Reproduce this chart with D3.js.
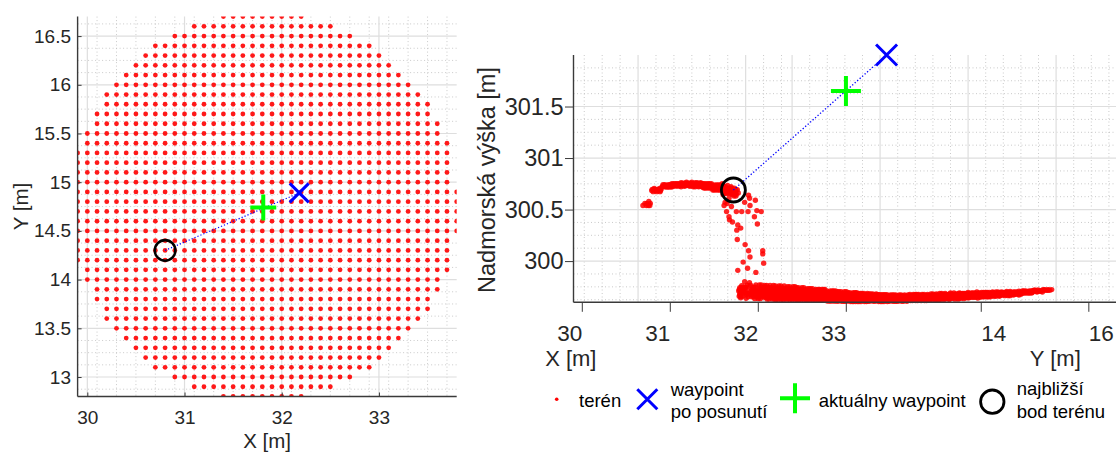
<!DOCTYPE html>
<html><head><meta charset="utf-8">
<script src="https://cdn.jsdelivr.net/npm/d3@7"></script>
<style>
html,body{margin:0;padding:0;background:#fff;}
svg{display:block;font-family:"Liberation Sans",Arial,Helvetica,sans-serif;}
</style></head><body>
<svg id="chart" width="1116" height="452"></svg>
<script>
// ================= DATA =================
// terrain grid (0.1 m spacing): each row y with first / last x
const rowY    = [12.8,12.9,13.0,13.1,13.2,13.3,13.4,13.5,13.6,13.7,13.8,13.9,14.0,14.1,14.2,14.3,14.4,14.5,14.6,14.7,
                 14.8,14.9,15.0,15.1,15.2,15.3,15.4,15.5,15.6,15.7,15.8,15.9,16.0,16.1,16.2,16.3,16.4,16.5,16.6,16.7];
const rowXMin = [31.4,31.1,30.9,30.7,30.6,30.5,30.4,30.3,30.2,30.2,30.1,30.1,30.0,30.0,29.9,29.9,29.9,29.9,29.9,29.9,
                 29.9,29.9,29.9,29.9,29.9,29.9,30.0,30.0,30.1,30.1,30.2,30.2,30.3,30.4,30.5,30.6,30.7,30.9,31.1,31.4];
const rowXMax = [32.2,32.5,32.7,32.9,33.0,33.1,33.2,33.3,33.4,33.5,33.5,33.6,33.6,33.7,33.7,33.7,33.7,33.8,33.8,33.8,
                 33.8,33.8,33.7,33.7,33.7,33.7,33.7,33.6,33.6,33.5,33.5,33.4,33.3,33.2,33.1,33.0,32.9,32.7,32.5,32.2];

// terrain height read from the side view, by horizontal distance along the view (0.1 m bins)
const upperQ      = [0.7,0.8,0.9,1.0,1.1,1.2,1.3,1.4,1.5,1.6];
const upperZ      = [300.55,300.69,300.73,300.74,300.745,300.74,300.73,300.715,300.69,300.67];
const upperSpread = [0.07,0.04,0.03,0.028,0.028,0.028,0.03,0.035,0.045,0.055];
const lowerQ      = [1.6,1.7,1.8,1.9,2.0,2.1,2.2,2.3,2.4,2.5,2.6,2.7,2.8,2.9,3.0,3.1,
                     3.2,3.3,3.4,3.5,3.6,3.7,3.8,3.9,4.0,4.1,4.2,4.3,4.4,4.5,4.6,4.7];
const lowerZ      = [299.70,299.70,299.70,299.695,299.69,299.685,299.68,299.675,299.67,299.66,299.655,299.65,299.645,299.645,299.64,299.64,
                     299.64,299.645,299.645,299.65,299.655,299.66,299.665,299.67,299.675,299.68,299.685,299.69,299.70,299.71,299.72,299.725];
const lowerSpread = [0.06,0.065,0.068,0.068,0.068,0.066,0.062,0.058,0.054,0.05,0.047,0.044,0.04,0.037,0.034,0.032,
                     0.031,0.03,0.03,0.03,0.03,0.031,0.031,0.031,0.031,0.03,0.029,0.027,0.025,0.024,0.023,0.022];
const cliffQ = 1.6;                       // edge of the step
const depthShape = [-0.95,-0.7,-0.4,-0.15,0.15,0.4,0.7,1.0];
// scattered terrain points on the step (x, y, z)
const cliffX = [31.0,30.3,30.9,30.6,30.1,30.2,31.0,30.3,31.4,30.9,30.7,31.7,31.3,30.3,31.6,31.4,30.9,30.3,31.3,30.5,
                31.9,31.4,30.8,31.6,31.6,30.5,31.2,30.7,31.3,31.1,30.4,31.5,30.4,32.0,30.6,31.3,30.4,30.8];
const cliffY = [13.8,15.0,14.1,14.5,15.5,15.2,13.9,15.1,13.4,14.2,14.6,12.9,13.7,15.4,13.3,13.5,14.4,15.2,13.9,15.0,
                12.8,13.6,14.6,13.4,13.2,15.1,13.8,14.9,14.0,14.2,15.4,13.7,15.5,12.9,14.9,13.4,14.8,14.3];
const cliffZ = [300.54,300.56,300.53,300.48,300.48,300.43,300.40,300.38,300.35,300.30,300.32,300.21,300.16,300.10,300.04,
                299.99,299.93,299.91,299.89,299.80,299.79,300.64,300.61,300.59,300.57,300.54,300.48,300.49,300.48,300.43,
                300.36,300.10,300.07,299.98,300.48,300.61,300.57,300.69];

// waypoints
const nearestPt = {x:30.8,  y:14.3,  z:300.69};
const currentWp = {x:31.81, y:14.74, z:301.65};
const shiftedWp = {x:32.18, y:14.89, z:302.0};

// axes
const xDomain = [29.9, 33.8], yDomain = [12.8, 16.7], zDomain = [299.6, 302.0];
const xTicksL = [30,31,32,33];
const yTicksL = [13,13.5,14,14.5,15,15.5,16,16.5];
const xTicks3 = [30,31,32,33];
const yTicks3 = [14,16];
const zTicks3 = [300,300.5,301,301.5];
const xLabel = "X [m]", yLabel = "Y [m]", zLabel = "Nadmorská výška [m]";
const legendItems = [["terén"],["waypoint","po posunutí"],["aktuálny waypoint"],["najbližší","bod terénu"]];

// ================= BUILD =================
const svg = d3.select('#chart');
const INK = '#262626', SPINE = '#3a3a3a', GRID = '#dedede', MINOR = '#bdbdbd';
const RED = '#ff0000', BLUE = '#0000ff', GREEN = '#00ff00';

const terrain = [];
rowY.forEach((y, i) => {
  const n = Math.round((rowXMax[i] - rowXMin[i]) * 10);
  for (let k = 0; k <= n; k++) terrain.push({x: +(rowXMin[i] + k * 0.1).toFixed(1), y});
});
const cliffMap = new Map(cliffX.map((x, i) => [x.toFixed(1) + ',' + cliffY[i].toFixed(1), cliffZ[i]]));
const az = 31.45 * Math.PI / 180, ca = Math.cos(az), sa = Math.sin(az);
const cx = d3.mean(terrain, d => d.x), cy = d3.mean(terrain, d => d.y);
terrain.forEach(d => {
  const key = d.x.toFixed(1) + ',' + d.y.toFixed(1);
  const q = ca * (d.x - xDomain[0]) + sa * (d.y - yDomain[0]);
  const v = -sa * (d.x - cx) + ca * (d.y - cy);
  const vi = Math.max(0, Math.min(7, Math.floor((v + 2) / 0.5)));
  if (cliffMap.has(key)) { d.z = cliffMap.get(key); return; }
  if (q < cliffQ) {
    const i = Math.max(0, Math.min(upperQ.length - 1, Math.round(q * 10) - Math.round(upperQ[0] * 10)));
    d.z = upperZ[i] + upperSpread[i] * depthShape[vi];
  } else {
    const i = Math.max(0, Math.min(lowerQ.length - 1, Math.round(q * 10) - Math.round(lowerQ[0] * 10)));
    d.z = lowerZ[i] + lowerSpread[i] * depthShape[vi];
  }
});

function xMark(g, cx_, cy_, h, w, col) {
  g.append('path').attr('d', `M${cx_-h},${cy_-h}L${cx_+h},${cy_+h}M${cx_-h},${cy_+h}L${cx_+h},${cy_-h}`)
    .attr('stroke', col).attr('stroke-width', w).attr('fill', 'none');
}
function plusMark(g, cx_, cy_, h, w, col) {
  g.append('path').attr('d', `M${cx_-h},${cy_}L${cx_+h},${cy_}M${cx_},${cy_-h}L${cx_},${cy_+h}`)
    .attr('stroke', col).attr('stroke-width', w).attr('fill', 'none');
}
function ringMark(g, cx_, cy_, r, w) {
  g.append('circle').attr('cx', cx_).attr('cy', cy_).attr('r', r)
    .attr('fill', 'none').attr('stroke', '#000').attr('stroke-width', w);
}

// ---------- LEFT PANEL (top view) ----------
const L = {left: 77.6, right: 456.7, top: 16.6, bottom: 396.5};
const xL = d3.scaleLinear().domain(xDomain).range([L.left, L.right]);
const yL = d3.scaleLinear().domain(yDomain).range([L.bottom, L.top]);
const gL = svg.append('g');
gL.append('clipPath').attr('id', 'clipL').append('rect')
  .attr('x', L.left).attr('y', L.top).attr('width', L.right - L.left).attr('height', L.bottom - L.top);

const xMinorL = d3.range(30.1, 33.75, 0.2);
const yMinorL = d3.range(12.875, 16.7, 0.125).filter(v => Math.abs(v * 2 - Math.round(v * 2)) > 1e-6);
gL.append('g').selectAll('line').data(xMinorL).join('line')
  .attr('x1', d => xL(d)).attr('x2', d => xL(d)).attr('y1', L.top).attr('y2', L.bottom)
  .attr('stroke', MINOR).attr('stroke-width', 0.8).attr('stroke-dasharray', '1,2.5');
gL.append('g').selectAll('line').data(yMinorL).join('line')
  .attr('y1', d => yL(d)).attr('y2', d => yL(d)).attr('x1', L.left).attr('x2', L.right)
  .attr('stroke', MINOR).attr('stroke-width', 0.8).attr('stroke-dasharray', '1,2.5');
gL.append('g').selectAll('line').data(xTicksL).join('line')
  .attr('x1', d => xL(d)).attr('x2', d => xL(d)).attr('y1', L.top).attr('y2', L.bottom)
  .attr('stroke', GRID).attr('stroke-width', 1.2);
gL.append('g').selectAll('line').data(yTicksL).join('line')
  .attr('y1', d => yL(d)).attr('y2', d => yL(d)).attr('x1', L.left).attr('x2', L.right)
  .attr('stroke', GRID).attr('stroke-width', 1.2);

gL.append('g').attr('clip-path', 'url(#clipL)').selectAll('circle').data(terrain).join('circle')
  .attr('cx', d => xL(d.x)).attr('cy', d => yL(d.y)).attr('r', 2.4)
  .attr('fill', RED).attr('fill-opacity', 0.9);

gL.append('line').attr('x1', xL(nearestPt.x)).attr('y1', yL(nearestPt.y))
  .attr('x2', xL(shiftedWp.x)).attr('y2', yL(shiftedWp.y))
  .attr('stroke', BLUE).attr('stroke-width', 1.2).attr('stroke-dasharray', '1.2,2');
xMark(gL, xL(shiftedWp.x), yL(shiftedWp.y), 9.5, 3, BLUE);
plusMark(gL, xL(currentWp.x), yL(currentWp.y), 13, 4, GREEN);
ringMark(gL, xL(nearestPt.x), yL(nearestPt.y), 10.3, 2.6);

// axes lines + ticks
const axL = d3.axisBottom(xL).tickValues(xTicksL).tickSize(-4).tickPadding(11).tickFormat(d3.format('d'));
const gxL = gL.append('g').attr('transform', `translate(0,${L.bottom})`).call(axL);
const ayL = d3.axisLeft(yL).tickValues(yTicksL).tickSize(-4).tickPadding(7).tickFormat(d3.format('~g'));
const gyL = gL.append('g').attr('transform', `translate(${L.left},0)`).call(ayL);
[gxL, gyL].forEach(g => {
  g.select('.domain').attr('stroke', SPINE).attr('stroke-width', 1.4);
  g.selectAll('.tick line').attr('stroke', SPINE).attr('stroke-width', 1);
  g.selectAll('.tick text').attr('fill', INK).style('font-size', '19px')
    .style('font-family', '"Liberation Sans",Arial,sans-serif');
});
gxL.select('.domain').attr('d', `M${L.left},0H${L.right}`);
gyL.select('.domain').attr('d', `M0,${L.top}V${L.bottom}`);
gxL.selectAll('.tick text').attr('dy', null).attr('y', 27).attr('dominant-baseline', 'auto');
gyL.selectAll('.tick text').attr('x', -6.6);

gL.append('text').attr('x', (L.left + L.right) / 2).attr('y', 448).attr('text-anchor', 'middle')
  .attr('fill', INK).style('font-size', '20.5px').text(xLabel);
gL.append('text').attr('transform', `translate(20,${(L.top + L.bottom) / 2}) rotate(-90)`)
  .attr('text-anchor', 'middle').attr('dominant-baseline', 'central')
  .attr('fill', INK).style('font-size', '20.5px').text(yLabel);

// ---------- RIGHT PANEL (side view, elevation 0) ----------
const x3 = d3.scaleLinear().domain(xDomain).range([573.5, 916.7]);
const y3 = d3.scaleLinear().domain(yDomain).range([0, 209.8]);
const z3 = d3.scaleLinear().domain(zDomain).range([302.3, 55]);
const proj = (x, y) => x3(x) + y3(y);
const gR = svg.append('g');
const uLeft = proj(xDomain[0], yDomain[0]);
const uRight = proj(xDomain[1], yDomain[1]);

// back-wall grid
const yMinor3 = [13, 13 + 1/3, 13 + 2/3, 14 + 1/3, 14 + 2/3, 15, 15 + 1/3, 15 + 2/3, 16 + 1/3, 16 + 2/3];
const xMinor3 = d3.range(30.2, 33.7, 0.2).filter(v => Math.abs(v - Math.round(v)) > 1e-6);
const zMinor3 = d3.range(299.625, 302.0, 0.125).filter(v => Math.abs(v * 2 - Math.round(v * 2)) > 1e-6);
const vMinor = yMinor3.map(y => proj(xDomain[0], y)).concat(xMinor3.map(x => proj(x, yDomain[1])));
const vMajor = yTicks3.map(y => proj(xDomain[0], y)).concat(xTicks3.map(x => proj(x, yDomain[1])));
gR.append('g').selectAll('line').data(vMinor).join('line')
  .attr('x1', d => d).attr('x2', d => d).attr('y1', z3(zDomain[1])).attr('y2', z3(zDomain[0]))
  .attr('stroke', MINOR).attr('stroke-width', 0.8).attr('stroke-dasharray', '1,2.5');
gR.append('g').selectAll('line').data(zMinor3).join('line')
  .attr('y1', d => z3(d)).attr('y2', d => z3(d)).attr('x1', uLeft).attr('x2', uRight)
  .attr('stroke', MINOR).attr('stroke-width', 0.8).attr('stroke-dasharray', '1,2.5');
gR.append('g').selectAll('line').data(vMajor).join('line')
  .attr('x1', d => d).attr('x2', d => d).attr('y1', z3(zDomain[1])).attr('y2', z3(zDomain[0]))
  .attr('stroke', GRID).attr('stroke-width', 1.2);
gR.append('g').selectAll('line').data(zTicks3).join('line')
  .attr('y1', d => z3(d)).attr('y2', d => z3(d)).attr('x1', uLeft).attr('x2', uRight)
  .attr('stroke', GRID).attr('stroke-width', 1.2);

// terrain
gR.append('g').selectAll('circle').data(terrain).join('circle')
  .attr('cx', d => proj(d.x, d.y)).attr('cy', d => z3(d.z)).attr('r', 2.7)
  .attr('fill', RED).attr('fill-opacity', 0.85);

gR.append('line').attr('x1', proj(nearestPt.x, nearestPt.y)).attr('y1', z3(nearestPt.z))
  .attr('x2', proj(shiftedWp.x, shiftedWp.y)).attr('y2', z3(shiftedWp.z))
  .attr('stroke', BLUE).attr('stroke-width', 1.3).attr('stroke-dasharray', '1.3,2');
xMark(gR, proj(shiftedWp.x, shiftedWp.y), z3(shiftedWp.z), 10.5, 3, BLUE);
plusMark(gR, proj(currentWp.x, currentWp.y), z3(currentWp.z), 15, 4, GREEN);
ringMark(gR, proj(nearestPt.x, nearestPt.y), z3(nearestPt.z), 12, 2.8);

// z axis
const az3 = d3.axisLeft(z3).tickValues(zTicks3).tickSize(8.5).tickPadding(1.5).tickFormat(d3.format('~g'));
const gz = gR.append('g').attr('transform', `translate(${uLeft},0)`).call(az3);
gz.select('.domain').attr('d', `M0,${z3(zDomain[1])}V${z3(zDomain[0])}`).attr('stroke', SPINE).attr('stroke-width', 1.4);
gz.selectAll('.tick line').attr('stroke', SPINE).attr('stroke-width', 1);
gz.selectAll('.tick text').attr('fill', INK).style('font-size', '23.5px')
  .style('font-family', '"Liberation Sans",Arial,sans-serif');
// bottom edge: X then Y axis
const bottomY = z3(zDomain[0]);
gR.append('line').attr('x1', uLeft).attr('x2', uRight).attr('y1', bottomY).attr('y2', bottomY)
  .attr('stroke', SPINE).attr('stroke-width', 1.4);
const ticksBottom = xTicks3.map(t => ({u: proj(t, yDomain[0]), t, dx: -12.5}))
  .concat(yTicks3.map(t => ({u: proj(xDomain[1], t), t, dx: 12.5})));
gR.append('g').selectAll('line').data(ticksBottom).join('line')
  .attr('x1', d => d.u).attr('x2', d => d.u).attr('y1', bottomY).attr('y2', bottomY + 9.5)
  .attr('stroke', SPINE).attr('stroke-width', 1);
gR.append('g').selectAll('text').data(ticksBottom).join('text')
  .attr('x', d => d.u + d.dx).attr('y', 340.5).attr('text-anchor', 'middle')
  .attr('fill', INK).style('font-size', '22.5px').text(d => d.t);
gR.append('text').attr('x', 570.8).attr('y', 365.5).attr('text-anchor', 'middle')
  .attr('fill', INK).style('font-size', '22px').text(xLabel);
gR.append('text').attr('x', 1055.3).attr('y', 365.5).attr('text-anchor', 'middle')
  .attr('fill', INK).style('font-size', '22px').text(yLabel);
gR.append('text').attr('transform', `translate(487,180) rotate(-90)`)
  .attr('text-anchor', 'middle').attr('dominant-baseline', 'central')
  .attr('fill', INK).style('font-size', '23.5px').text(zLabel);

// ---------- LEGEND ----------
const gLeg = svg.append('g').style('font-size', '18.5px').attr('fill', '#000');
gLeg.append('circle').attr('cx', 556.7).attr('cy', 399.3).attr('r', 1.8).attr('fill', RED);
gLeg.append('text').attr('x', 579).attr('y', 406.8).text(legendItems[0][0]);
xMark(gLeg, 647.3, 399.3, 10, 3, BLUE);
gLeg.append('text').attr('x', 670.7).attr('y', 395.8).text(legendItems[1][0]);
gLeg.append('text').attr('x', 670.7).attr('y', 418.3).text(legendItems[1][1]);
plusMark(gLeg, 795, 398.3, 15, 4, GREEN);
gLeg.append('text').attr('x', 818.7).attr('y', 406.8).text(legendItems[2][0]);
ringMark(gLeg, 992.3, 401.7, 11.7, 2.8);
gLeg.append('text').attr('x', 1016.7).attr('y', 395.3).text(legendItems[3][0]);
gLeg.append('text').attr('x', 1016.7).attr('y', 418.3).text(legendItems[3][1]);
</script>
</body></html>
